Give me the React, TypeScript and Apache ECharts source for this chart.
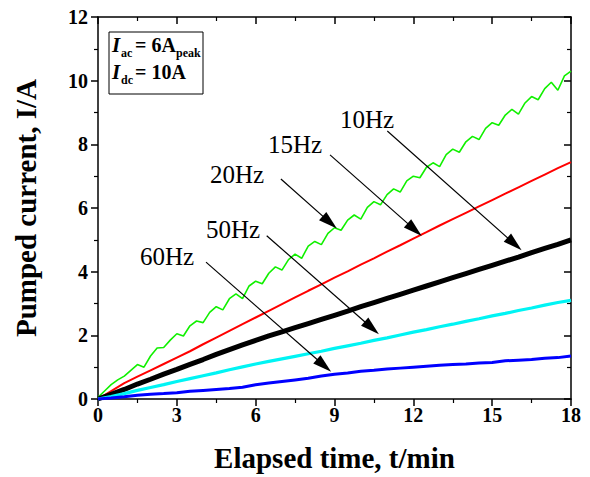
import React, { useEffect, useRef } from "react";
import * as echarts from "echarts";

const FONT = "'Liberation Serif', 'Times New Roman', Times, serif";

// time axes (min)
const tFine = [
  0, 0.25, 0.5, 0.75, 1, 1.25, 1.5, 1.75, 2, 2.25, 2.5, 2.75, 3, 3.25, 3.5, 3.75,
  4, 4.25, 4.5, 4.75, 5, 5.25, 5.5, 5.75, 6, 6.25, 6.5, 6.75, 7, 7.25, 7.5, 7.75,
  8, 8.25, 8.5, 8.75, 9, 9.25, 9.5, 9.75, 10, 10.25, 10.5, 10.75, 11, 11.25, 11.5, 11.75,
  12, 12.25, 12.5, 12.75, 13, 13.25, 13.5, 13.75, 14, 14.25, 14.5, 14.75, 15, 15.25, 15.5, 15.75,
  16, 16.25, 16.5, 16.75, 17, 17.25, 17.5, 17.75, 18,
];
const tCoarse = [
  0, 0.5, 1, 1.5, 2, 2.5, 3, 3.5, 4, 4.5, 5, 5.5, 6, 6.5, 7, 7.5, 8, 8.5, 9, 9.5,
  10, 10.5, 11, 11.5, 12, 12.5, 13, 13.5, 14, 14.5, 15, 15.5, 16, 16.5, 17, 17.5, 18,
];

// pumped current (A)
const green20Hz = [
  0.05, 0.25, 0.45, 0.6, 0.72, 0.9, 1.08, 1.0, 1.35, 1.6, 1.62, 1.85, 2.05, 1.98, 2.3, 2.45,
  2.4, 2.72, 2.9, 2.8, 3.15, 3.3, 3.15, 3.55, 3.7, 3.62, 3.95, 4.15, 4.05, 4.38, 4.55, 4.42,
  4.8, 4.95, 4.85, 5.2, 5.38, 5.3, 5.62, 5.78, 5.65, 6.02, 6.2, 6.1, 6.42, 6.6, 6.5, 6.85,
  7.0, 6.95, 7.28, 7.42, 7.3, 7.68, 7.85, 7.75, 8.08, 8.25, 8.15, 8.5, 8.68, 8.6, 8.92, 9.1,
  8.95, 9.3, 9.5, 9.4, 9.75, 9.95, 9.7, 10.15, 10.3,
];
const red15Hz = [
  0.0, 0.25, 0.5, 0.7, 0.9, 1.1, 1.3, 1.5, 1.72, 1.93, 2.14, 2.35, 2.56, 2.77, 2.98, 3.19,
  3.4, 3.6, 3.81, 4.01, 4.22, 4.42, 4.63, 4.83, 5.04, 5.24, 5.45, 5.65, 5.85, 6.05, 6.25,
  6.45, 6.65, 6.85, 7.05, 7.25, 7.44,
];
const black10Hz = [
  0.0, 0.15, 0.3, 0.47, 0.62, 0.78, 0.93, 1.09, 1.24, 1.4, 1.55, 1.7, 1.84, 1.98, 2.11, 2.24,
  2.37, 2.5, 2.63, 2.76, 2.9, 3.03, 3.16, 3.29, 3.42, 3.55, 3.68, 3.81, 3.94, 4.07, 4.2,
  4.33, 4.46, 4.6, 4.73, 4.86, 5.0,
];
const cyan50Hz = [
  0.0, 0.08, 0.17, 0.27, 0.36, 0.45, 0.55, 0.64, 0.73, 0.82, 0.92, 1.01, 1.1, 1.18, 1.26, 1.34,
  1.42, 1.5, 1.59, 1.67, 1.75, 1.84, 1.92, 2.01, 2.1, 2.18, 2.27, 2.35, 2.44, 2.52, 2.61,
  2.69, 2.78, 2.86, 2.95, 3.03, 3.1,
];
const blue60Hz = [
  0.0, 0.03, 0.07, 0.12, 0.15, 0.17, 0.2, 0.24, 0.27, 0.3, 0.33, 0.37, 0.45, 0.5, 0.55, 0.6,
  0.65, 0.72, 0.78, 0.82, 0.87, 0.9, 0.94, 0.97, 1.0, 1.03, 1.06, 1.08, 1.1, 1.13, 1.15,
  1.2, 1.22, 1.24, 1.28, 1.3, 1.35,
];

// x / y axis ticks
const xTicks = { min: 0, max: 18, interval: 3 };
const yTicks = { min: 0, max: 12, interval: 2 };

// annotation labels and arrows (data coordinates: start -> tip)
const arrowLabels = ["10Hz", "15Hz", "20Hz", "50Hz", "60Hz"];
const arrowStarts = [[11.01, 8.42], [8.83, 7.67], [6.96, 6.91], [6.42, 5.13], [4.11, 4.3]];
const arrowTips = [[15.85, 4.87], [12.05, 5.32], [8.82, 5.55], [10.42, 2.23], [8.6, 1.05]];

const pairs = (t: number[], v: number[]) => t.map((x, i) => [x, v[i]]);

export default function App() {
  const ref = useRef<HTMLDivElement>(null);
  useEffect(() => {
    const chart = echarts.init(ref.current!, null, { renderer: "svg" });
    const axisLine = { show: true, onZero: false, lineStyle: { color: "#000", width: 1.5 } };
    const tickStyle = { color: "#000", width: 1.5 };
    const labelStyle = { color: "#000", fontFamily: FONT, fontWeight: "bold" as const, fontSize: 20 };
    const nameStyle = { color: "#000", fontFamily: FONT, fontWeight: "bold" as const, fontSize: 29 };

    const mkX = (pos: "bottom" | "top") => ({
      type: "value",
      position: pos,
      ...xTicks,
      axisLine,
      axisTick: { show: true, inside: pos === "top", length: 7, lineStyle: tickStyle },
      minorTick: { show: true, splitNumber: 2, length: 4, lineStyle: { color: "#000", width: 1.2 } },
      splitLine: { show: false },
      axisLabel: pos === "bottom" ? { ...labelStyle, margin: 6 } : { show: false },
      ...(pos === "bottom"
        ? { name: "Elapsed time, t/min", nameLocation: "middle", nameGap: 44, nameTextStyle: nameStyle }
        : {}),
    });
    const mkY = (pos: "left" | "right") => ({
      type: "value",
      position: pos,
      ...yTicks,
      axisLine,
      axisTick: { show: true, inside: pos === "right", length: 7, lineStyle: tickStyle },
      minorTick: { show: true, splitNumber: 2, length: 4, lineStyle: { color: "#000", width: 1.2 } },
      splitLine: { show: false },
      axisLabel: pos === "left" ? { ...labelStyle, margin: 10 } : { show: false },
      ...(pos === "left"
        ? { name: "Pumped current, I/A", nameLocation: "middle", nameGap: 58, nameTextStyle: nameStyle }
        : {}),
    });

    const line = (name: string, t: number[], v: number[], color: string, width: number) => ({
      name,
      type: "line",
      data: pairs(t, v),
      showSymbol: false,
      symbol: "none",
      lineStyle: { color, width },
      silent: true,
    });

    const labelPos = [
      [340, 119],
      [268, 144],
      [210, 174],
      [206, 229],
      [140, 256],
    ];

    const option: any = {
      animation: false,
      grid: { left: 98, right: 19, top: 17, bottom: 76 },
      xAxis: [mkX("bottom"), mkX("top")],
      yAxis: [mkY("left"), mkY("right")],
      series: [
        line("20Hz", tFine, green20Hz, "#11f000", 1.6),
        line("15Hz", tCoarse, red15Hz, "#ff0000", 2),
        line("10Hz", tCoarse, black10Hz, "#000000", 5),
        line("50Hz", tCoarse, cyan50Hz, "#00f4f4", 3.2),
        {
          ...line("60Hz", tCoarse, blue60Hz, "#0000ff", 3),
          markLine: {
            silent: true,
            animation: false,
            symbol: ["none", "none"],
            label: { show: false },
            lineStyle: { color: "#000", width: 1.2, type: "solid" },
            emphasis: { disabled: true },
            data: arrowStarts.map((s, i) => [
              { coord: s, symbol: "none" },
              { coord: arrowTips[i], symbol: "path://M5 0 L10 18 L0 18 Z", symbolSize: [11, 19] },
            ]),
          },
        },
      ],
      graphic: [
        ...arrowLabels.map((txt, i) => ({
          type: "text",
          x: labelPos[i][0],
          y: labelPos[i][1],
          style: { text: txt, font: `25px ${FONT}`, fill: "#000", verticalAlign: "middle", align: "left" },
        })),
        { type: "rect", shape: { x: 109, y: 32, width: 94, height: 62 }, style: { fill: "#fff", stroke: "#000", lineWidth: 1 } },
        { type: "text", x: 112, y: 45, style: { text: "I", font: `italic bold 21px ${FONT}`, fill: "#000", verticalAlign: "middle" } },
        { type: "text", x: 121, y: 53, style: { text: "ac", font: `bold 12px ${FONT}`, fill: "#000", verticalAlign: "middle" } },
        { type: "text", x: 135, y: 45, style: { text: "= 6A", font: `bold 20px ${FONT}`, fill: "#000", verticalAlign: "middle" } },
        { type: "text", x: 176, y: 53, style: { text: "peak", font: `bold 12px ${FONT}`, fill: "#000", verticalAlign: "middle" } },
        { type: "text", x: 112, y: 72, style: { text: "I", font: `italic bold 21px ${FONT}`, fill: "#000", verticalAlign: "middle" } },
        { type: "text", x: 121, y: 80, style: { text: "dc", font: `bold 12px ${FONT}`, fill: "#000", verticalAlign: "middle" } },
        { type: "text", x: 135, y: 72, style: { text: "= 10A", font: `bold 20px ${FONT}`, fill: "#000", verticalAlign: "middle" } },
      ],
    };
    chart.setOption(option);
    return () => chart.dispose();
  }, []);
  return <div ref={ref} style={{ position: "absolute", left: 0, top: 0, width: 590, height: 477 }} />;
}
